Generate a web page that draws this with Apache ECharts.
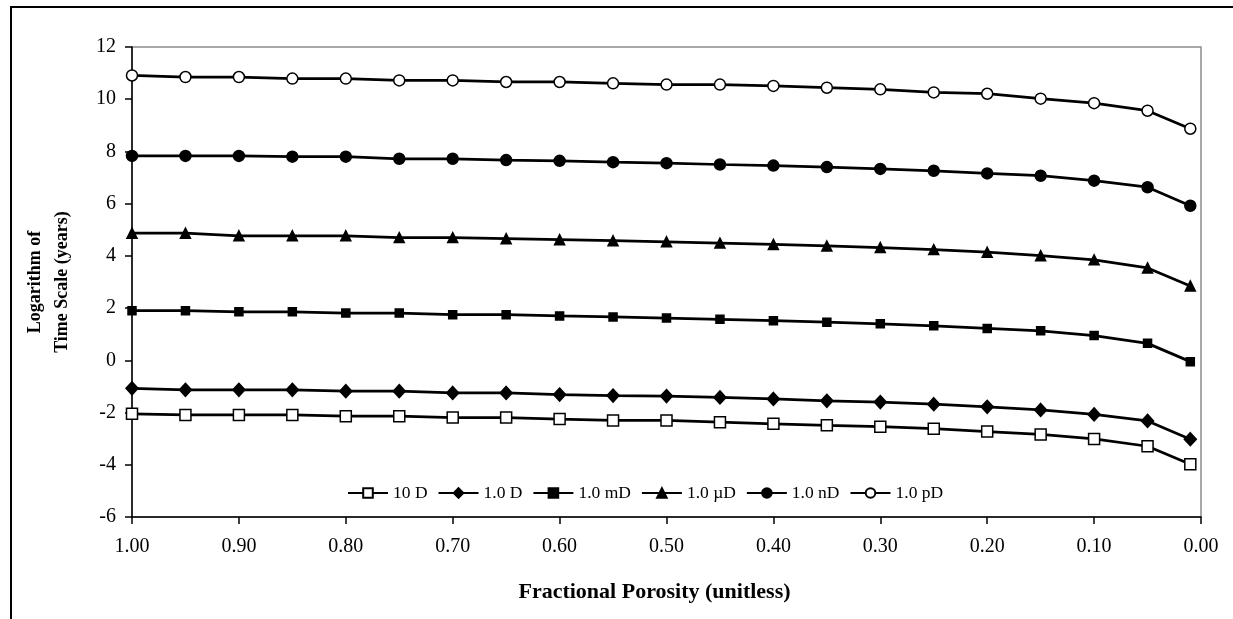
<!DOCTYPE html>
<html>
<head>
<meta charset="utf-8">
<script src="https://cdn.jsdelivr.net/npm/echarts@6/dist/echarts.min.js"></script>
<style>
html,body{margin:0;padding:0;background:#fff;overflow:hidden;}
#chart{width:1233px;height:619px;}
</style>
</head>
<body>
<div id="chart"></div>
<script>
const porosity = [1.00,0.95,0.90,0.85,0.80,0.75,0.70,0.65,0.60,0.55,0.50,0.45,0.40,0.35,0.30,0.25,0.20,0.15,0.10,0.05,0.01];
const seriesNames = ['10 D','1.0 D','1.0 mD','1.0 \u00b5D','1.0 nD','1.0 pD'];
const d10 = [-2.05,-2.09,-2.09,-2.09,-2.14,-2.14,-2.19,-2.19,-2.25,-2.30,-2.30,-2.37,-2.43,-2.49,-2.54,-2.62,-2.73,-2.84,-3.01,-3.29,-3.98];
const d1  = [-1.07,-1.13,-1.13,-1.13,-1.18,-1.18,-1.25,-1.25,-1.31,-1.35,-1.37,-1.42,-1.48,-1.55,-1.60,-1.68,-1.78,-1.90,-2.07,-2.32,-3.02];
const md  = [1.90,1.90,1.86,1.86,1.81,1.81,1.75,1.75,1.70,1.66,1.62,1.57,1.52,1.46,1.40,1.32,1.22,1.13,0.95,0.65,-0.05];
const ud  = [4.87,4.87,4.77,4.77,4.77,4.70,4.70,4.66,4.62,4.58,4.54,4.49,4.44,4.38,4.32,4.24,4.14,4.01,3.85,3.54,2.85];
const nd  = [7.83,7.83,7.83,7.80,7.80,7.72,7.72,7.67,7.64,7.59,7.55,7.50,7.46,7.40,7.33,7.26,7.16,7.07,6.88,6.63,5.92];
const pd  = [10.91,10.85,10.85,10.79,10.79,10.72,10.72,10.66,10.66,10.61,10.56,10.56,10.51,10.44,10.38,10.26,10.21,10.02,9.85,9.56,8.87];
const yTicks = {min:-6, max:12, interval:2};
const xTicks = {min:0, max:1, interval:0.1};

const values = [d10, d1, md, ud, nd, pd];
const symbols = [
  {symbol:'rect', size:11, fill:'#fff'},
  {symbol:'diamond', size:[12,13], fill:'#000'},
  {symbol:'rect', size:8, fill:'#000'},
  {symbol:'triangle', size:10, fill:'#000'},
  {symbol:'circle', size:11, fill:'#000'},
  {symbol:'circle', size:11, fill:'#fff'}
];
const FONT = 'Liberation Serif';

const chart = echarts.init(document.getElementById('chart'), null, {renderer:'canvas'});
chart.setOption({
  animation:false,
  backgroundColor:'#fff',
  graphic:[{
    type:'polyline', z:-10, silent:true,
    shape:{points:[[11,619],[11,7],[1233,7]]},
    style:{fill:null, stroke:'#000', lineWidth:2}
  }],
  grid:{left:132, top:47, right:32, bottom:102, show:true, borderColor:'#8c8c8c', borderWidth:1.5, backgroundColor:'transparent'},
  legend:{
    left:342, top:479,
    itemWidth:40, itemHeight:12, itemGap:10,
    textStyle:{fontFamily:FONT, fontSize:17.5, color:'#000'},
    data:seriesNames
  },
  xAxis:{
    type:'value', inverse:true,
    min:xTicks.min, max:xTicks.max, interval:xTicks.interval,
    name:'Fractional Porosity (unitless)', nameLocation:'middle', nameGap:64,
    nameTextStyle:{fontFamily:FONT, fontSize:22, fontWeight:'bold', color:'#000', padding:[0,24,0,0]},
    axisLine:{show:true, onZero:false, lineStyle:{color:'#000', width:1.5}},
    axisTick:{show:true, inside:false, length:7, lineStyle:{color:'#000', width:1.5}},
    axisLabel:{fontFamily:FONT, fontSize:20, color:'#000', margin:20, formatter:v=>v.toFixed(2)},
    splitLine:{show:false}
  },
  yAxis:{
    type:'value',
    min:yTicks.min, max:yTicks.max, interval:yTicks.interval,
    name:'Logarithm of\nTime Scale (years)', nameLocation:'middle', nameRotate:90, nameGap:56,
    nameTextStyle:{fontFamily:FONT, fontSize:18, fontWeight:'bold', color:'#000', lineHeight:27, align:'center'},
    axisLine:{show:true, onZero:false, lineStyle:{color:'#000', width:1.5}},
    axisTick:{show:true, inside:false, length:7, lineStyle:{color:'#000', width:1.5}},
    axisLabel:{fontFamily:FONT, fontSize:20, color:'#000', margin:16},
    splitLine:{show:false}
  },
  series: values.map((vals, i) => ({
    name: seriesNames[i],
    type:'line',
    data: porosity.map((p, j) => [p, vals[j]]),
    symbol: symbols[i].symbol,
    symbolSize: symbols[i].size,
    showAllSymbol:true,
    lineStyle:{color:'#000', width:2.75},
    itemStyle:{color:symbols[i].fill, borderColor:'#000', borderWidth:1.5},
    emphasis:{disabled:true}
  }))
});
</script>
</body>
</html>
